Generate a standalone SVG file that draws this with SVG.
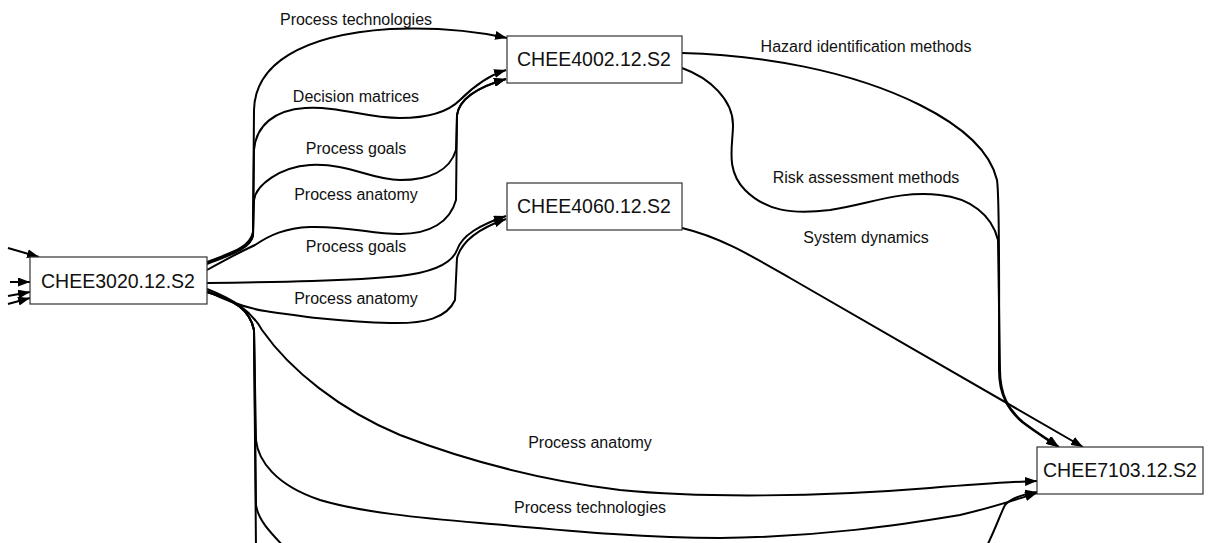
<svg xmlns="http://www.w3.org/2000/svg" width="1209" height="543" viewBox="0 0 1209 543">
<style>
.node rect{fill:#fff;stroke:#333;stroke-width:1.2}
.node text{font-family:"Liberation Sans",Arial,sans-serif;font-size:19.5px;fill:#111;text-anchor:middle}
.edge{fill:none;stroke:#000;stroke-width:2;marker-end:url(#ah)}
.edge.off{marker-end:none}
.lbl{font-family:"Liberation Sans",Arial,sans-serif;font-size:16px;fill:#111;text-anchor:middle}
</style>
<defs>
<marker id="ah" viewBox="0 0 12 9" refX="12" refY="4.5" markerWidth="12" markerHeight="9" markerUnits="userSpaceOnUse" orient="auto">
<path d="M0,0 L12,4.5 L0,9 z" fill="#000"/>
</marker>
</defs>
<rect width="1209" height="543" fill="#fff"/>
<g id="connectors">
<path class="edge" d="M8,248 L39,257"/>
<path class="edge" d="M10,282 L30,282"/>
<path class="edge" d="M8,296 L30,292"/>
<path class="edge" d="M8,304 L30,298"/>
<path class="edge" d="M207,262 C230,253 250,248 253,232 L254,110 C255,65 300,35 390,29 C440,27 480,32 507,38"/>
<path class="edge" d="M207,263 C230,254 250,249 253,235 L254,150 C256,125 275,110 305,108 C340,106 365,118 400,118 C430,118 448,112 460,100 C475,85 490,75 506,70"/>
<path class="edge" d="M207,264 C230,255 250,249 253,236 L254,200 C256,185 280,167 310,165 C350,163 370,180 400,180 C430,180 450,170 456,150 L457,115 C460,95 485,85 506,79"/>
<path class="edge" d="M207,270 C225,260 240,252 255,245 C270,235 285,228 310,227 C350,226 370,234 400,234 C430,234 450,222 456,200 L457,115 C460,95 485,85 506,79"/>
<path class="edge" d="M207,283 C280,282 350,281 400,276 C435,272 452,263 457,250 C462,235 480,225 506,216"/>
<path class="edge" d="M207,291 C225,300 245,308 265,311 C300,316 340,322 390,323 C425,324 447,318 455,300 L457,258 C462,240 480,228 506,219"/>
<path class="edge" d="M207,289 C235,300 252,312 262,330 C290,370 340,410 400,435 C470,462 540,480 620,490 C700,498 820,497 930,488 C980,484 1010,482 1037,481"/>
<path class="edge" d="M207,292 C235,300 250,310 254,330 L256,440 C258,460 275,485 320,500 C360,512 420,518 480,523 C560,530 640,538 720,538 C820,537 900,525 960,515 C990,508 1015,500 1037,493"/>
<path class="edge off" d="M207,292 C235,300 250,310 254,330 L256,505 C258,520 270,532 287,550"/>
<path class="edge off" d="M207,292 C235,300 250,310 254,330 L256,550"/>
<path class="edge" d="M985,550 C995,530 1000,515 1005,505 C1012,497 1025,494 1037,492"/>
<path class="edge" d="M682,53 C760,55 850,70 920,105 C960,125 990,150 997,180 C1000,200 999,330 999,370 C999,395 1008,410 1022,422 C1035,432 1048,440 1058,447"/>
<path class="edge" d="M682,68 C710,78 733,100 733,125 C733,145 725,170 745,190 C765,210 790,215 830,210 C870,204 900,190 940,195 C970,198 992,215 998,240 L1000,370 C1000,395 1009,410 1023,422 C1036,432 1049,440 1059,447"/>
<path class="edge" d="M682,228 C720,237 750,255 790,278 C860,318 960,375 1083,447"/>
<text class="lbl" x="356" y="25">Process technologies</text>
<text class="lbl" x="356" y="102">Decision matrices</text>
<text class="lbl" x="356" y="154">Process goals</text>
<text class="lbl" x="356" y="200">Process anatomy</text>
<text class="lbl" x="356" y="252">Process goals</text>
<text class="lbl" x="356" y="304">Process anatomy</text>
<text class="lbl" x="866" y="52">Hazard identification methods</text>
<text class="lbl" x="866" y="183">Risk assessment methods</text>
<text class="lbl" x="866" y="243">System dynamics</text>
<text class="lbl" x="590" y="448">Process anatomy</text>
<text class="lbl" x="590" y="513">Process technologies</text>
</g>
<g id="CHEE3020" class="node"><rect x="30" y="257" width="177" height="47"/><text x="118" y="288">CHEE3020.12.S2</text></g>
<g id="CHEE4002" class="node"><rect x="507" y="36" width="175" height="47"/><text x="594" y="66">CHEE4002.12.S2</text></g>
<g id="CHEE4060" class="node"><rect x="507" y="183" width="175" height="47"/><text x="594" y="213">CHEE4060.12.S2</text></g>
<g id="CHEE7103" class="node"><rect x="1037" y="447" width="166" height="47"/><text x="1120" y="477">CHEE7103.12.S2</text></g>
</svg>
